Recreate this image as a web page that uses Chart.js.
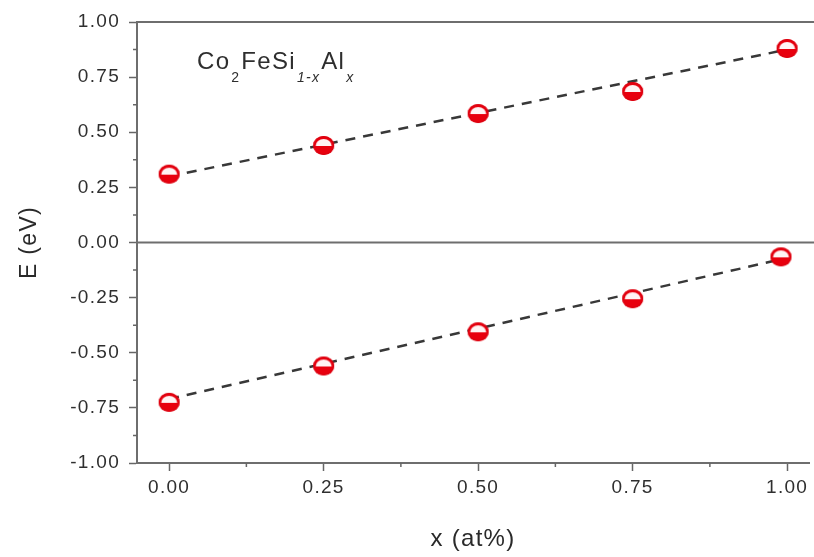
<!DOCTYPE html>
<html>
<head>
<meta charset="utf-8">
<script src="https://cdn.jsdelivr.net/npm/chart.js@4.4.1/dist/chart.umd.min.js"></script>
<style>
  html, body { margin: 0; padding: 0; background: #fff; overflow: hidden; }
  #wrap { width: 814px; height: 557px; }
</style>
</head>
<body>
<div id="wrap"><canvas id="energyChart"></canvas></div>
<script>
// values
const upperX = [0, 0.25, 0.5, 0.75, 1.0];
const upperE = [0.31, 0.44, 0.585, 0.685, 0.88];
const lowerX = [0, 0.25, 0.5, 0.75, 0.99];
const lowerE = [-0.725, -0.56, -0.405, -0.255, -0.065];

// dashed linear fits, end points
const fitX = [0, 1];
const upperFit = [0.30, 0.875];
const lowerFit = [-0.71, -0.07];

// minor tick positions
const minorX = [0.125, 0.375, 0.625, 0.875];
const minorY = [-0.875, -0.625, -0.375, -0.125, 0.125, 0.375, 0.625, 0.875];

const toPoints = (xs, ys) => xs.map((x, i) => ({ x: x, y: ys[i] }));

Chart.defaults.font.family = '"Liberation Sans", Arial, sans-serif';

/**
 * red half-filled ball used as marker
 */
function makeBall() {
    const c = document.createElement("canvas");
    c.width = 23;
    c.height = 21;
    const g = c.getContext("2d");
    g.beginPath();
    g.ellipse(11.5, 10.5, 10.5, 9.5, 0, 0, Math.PI * 2);
    g.fillStyle = "#e8000e";
    g.fill();
    g.beginPath();
    g.ellipse(11.5, 11, 8, 7, 0, Math.PI, Math.PI * 2);
    g.closePath();
    g.fillStyle = "#fff4f4";
    g.fill();
    g.beginPath();
    g.ellipse(11.5, 10.5, 9.9, 8.9, 0, 0, Math.PI * 2);
    g.strokeStyle = "#dc0010";
    g.lineWidth = 1.3;
    g.stroke();
    return c;
}
const ball = makeBall();

// the original figure is horizontally stretched, widen the glyph spacing a bit
const spacingPlugin = {
    id: "spacing",
    beforeUpdate(chart) { chart.ctx.letterSpacing = "1.3px"; },
    beforeDraw(chart) { chart.ctx.letterSpacing = "1.3px"; }
};

const framePlugin = {
    id: "frame",
    beforeDatasetsDraw(chart) {
        const ctx = chart.ctx;
        const a = chart.chartArea;
        const y0 = chart.scales.y.getPixelForValue(0);
        ctx.save();
        ctx.strokeStyle = "#6e6e6e";
        ctx.lineWidth = 2;
        ctx.beginPath();
        // top border and zero line run out to the edge
        ctx.moveTo(a.left, a.top);
        ctx.lineTo(chart.width, a.top);
        ctx.moveTo(a.left, y0);
        ctx.lineTo(chart.width, y0);
        ctx.stroke();
        ctx.restore();
    },
    afterDraw(chart) {
        const ctx = chart.ctx;
        const a = chart.chartArea;
        const xs = chart.scales.x;
        const ys = chart.scales.y;
        ctx.save();
        // minor ticks
        ctx.strokeStyle = "#666";
        ctx.lineWidth = 1.5;
        ctx.beginPath();
        minorX.forEach(v => {
            const px = xs.getPixelForValue(v);
            ctx.moveTo(px, a.bottom);
            ctx.lineTo(px, a.bottom + 4);
        });
        minorY.forEach(v => {
            const py = ys.getPixelForValue(v);
            ctx.moveTo(a.left, py);
            ctx.lineTo(a.left - 4, py);
        });
        ctx.stroke();

        // formula label
        const parts = [
            ["Co", false, false],
            ["2", true, false],
            ["FeSi", false, false],
            ["1-x", true, true],
            ["Al", false, false],
            ["x", true, true]
        ];
        let x = a.left + 60;
        const base = a.top + 47;
        ctx.fillStyle = "#2e2e2e";
        ctx.textBaseline = "alphabetic";
        ctx.textAlign = "left";
        parts.forEach(([t, sub, it]) => {
            ctx.font = (it ? "italic " : "") + (sub ? "14px" : "24px") + ' "Liberation Sans", Arial, sans-serif';
            ctx.fillText(t, x, sub ? base + 13 : base);
            x += ctx.measureText(t).width + 1;
        });
        ctx.restore();
    }
};

const ctx = document.getElementById("energyChart");

new Chart(ctx, {
    type: "scatter",
    data: {
        datasets: [
            {
                data: toPoints(upperX, upperE),
                pointStyle: ball,
                order: 0
            },
            {
                data: toPoints(lowerX, lowerE),
                pointStyle: ball,
                order: 0
            },
            {
                data: toPoints(fitX, upperFit),
                showLine: true,
                pointRadius: 0,
                borderColor: "#383838",
                borderWidth: 2.5,
                borderDash: [10, 8],
                order: 1
            },
            {
                data: toPoints(fitX, lowerFit),
                showLine: true,
                pointRadius: 0,
                borderColor: "#383838",
                borderWidth: 2.5,
                borderDash: [10, 8],
                order: 1
            }
        ]
    },
    options: {
        responsive: true,
        maintainAspectRatio: false,
        animation: false,
        layout: { padding: { top: 22, right: 0, left: 0, bottom: 0 } },
        plugins: {
            legend: { display: false },
            tooltip: { enabled: false }
        },
        scales: {
            x: {
                type: "linear",
                min: -0.052,
                max: 1.0354,
                afterFit(s) {
                    s.height = 94;
                    s.paddingLeft = 0;
                    s.paddingRight = 0;
                },
                ticks: {
                    stepSize: 0.25,
                    includeBounds: false,
                    maxRotation: 0,
                    padding: 5,
                    color: "#2f2f2f",
                    font: { size: 19 },
                    callback: v => v.toFixed(2)
                },
                grid: {
                    drawOnChartArea: false,
                    tickLength: 8,
                    tickColor: "#666",
                    tickWidth: 1.5
                },
                border: { color: "#6e6e6e", width: 2 },
                title: {
                    display: true,
                    text: "x (at%)",
                    color: "#2a2a2a",
                    font: { size: 24 },
                    padding: { top: 0, bottom: 3 }
                }
            },
            y: {
                min: -1,
                max: 1,
                afterFit(s) {
                    s.width = 137;
                    s.paddingTop = 0;
                    s.paddingBottom = 0;
                },
                ticks: {
                    stepSize: 0.25,
                    padding: 9,
                    color: "#2f2f2f",
                    font: { size: 19 },
                    callback: v => v.toFixed(2)
                },
                grid: {
                    drawOnChartArea: false,
                    tickLength: 8,
                    tickColor: "#666",
                    tickWidth: 1.5
                },
                border: { color: "#6e6e6e", width: 2 },
                title: {
                    display: true,
                    text: "E (eV)",
                    color: "#2a2a2a",
                    font: { size: 23 },
                    padding: { top: 16, bottom: 0 }
                }
            }
        }
    },
    plugins: [spacingPlugin, framePlugin]
});
</script>
</body>
</html>
